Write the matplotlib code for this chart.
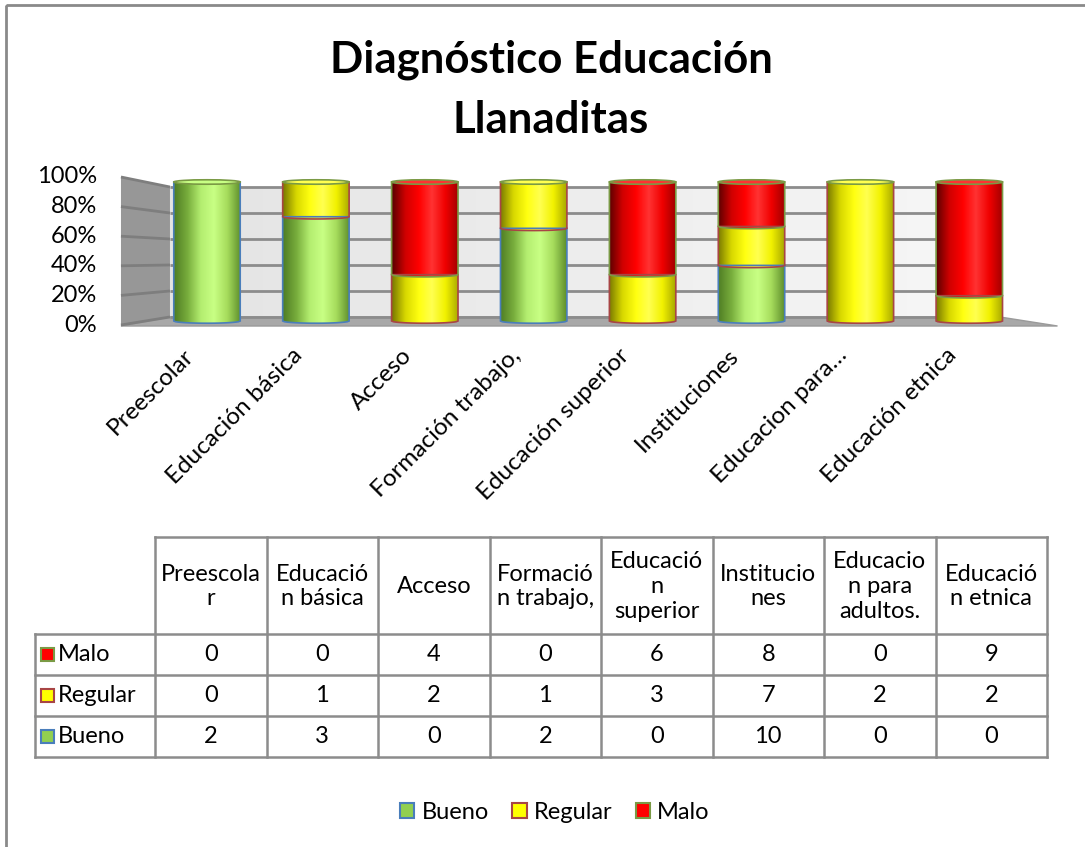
import numpy as np
import matplotlib
matplotlib.use("Agg")
import matplotlib.pyplot as plt
from matplotlib.patches import Polygon, Ellipse, Rectangle, Patch
from matplotlib.colors import LinearSegmentedColormap

plt.rcParams['font.family'] = ['Lato', 'DejaVu Sans']

# ---- data ----
categories = ['Preescolar', 'Educación básica', 'Acceso', 'Formación trabajo,',
              'Educación superior', 'Instituciones', 'Educacion para…', 'Educación etnica']
table_headers = ['Preescola\nr', 'Educació\nn básica', 'Acceso', 'Formació\nn trabajo,',
                 'Educació\nn\nsuperior', 'Institucio\nnes', 'Educacio\nn para\nadultos.',
                 'Educació\nn etnica']
series_names = ['Bueno', 'Regular', 'Malo']
bueno = [2, 3, 0, 2, 0, 10, 0, 0]
regular = [0, 1, 2, 1, 3, 7, 2, 2]
malo = [0, 0, 4, 0, 6, 8, 0, 9]
y_ticks = [0, 20, 40, 60, 80, 100]
title_lines = ['Diagnóstico Educación', 'Llanaditas']

# ---- styling ----
series_values = [bueno, regular, malo]
flat_colors = ['#92d050', '#ffff00', '#ff0000']
edge_colors = ['#4a7ebb', '#a84545', '#7a9a45']
gradients = [
    ['#4f7d24', '#78ad3c', '#b4ee70', '#c8ff84', '#a6dc5c', '#5e8e2c'],
    ['#7a7a00', '#d8d800', '#ffff10', '#ffff50', '#f2f200', '#a8a800'],
    ['#5c0000', '#d00000', '#ff0000', '#ff3232', '#f00000', '#a00000'],
]
cmaps = [LinearSegmentedColormap.from_list('c%d' % k, g) for k, g in enumerate(gradients)]

W, H = 1085, 847
fig = plt.figure(figsize=(W / 100, H / 100), dpi=100)
fig.patch.set_facecolor('white')

# overlay axes in pixel units for frame, table and text layout
tax = fig.add_axes([0, 0, 1, 1])
tax.set_xlim(0, W)
tax.set_ylim(H, 0)
tax.axis('off')

# ---- chart axes (x: category index, y: percent) ----
px0, pxs = 207.0, 108.9   # pixel of category 0, pixels per category
py0, pys = 321.0, 1.39    # pixel of 0 %, pixels per percent
xlim = (-0.85, 7.9)
ylim = (-6.0, 106.0)
l = px0 + pxs * xlim[0]
r = px0 + pxs * xlim[1]
b = py0 - pys * ylim[0]
t = py0 - pys * ylim[1]
ax = fig.add_axes([l / W, (H - b) / H, (r - l) / W, (b - t) / H])
ax.set_xlim(*xlim)
ax.set_ylim(*ylim)
ax.axis('off')

# walls and floor
bx0, bx1 = -0.34, 7.28       # back wall extent
sx = -0.79                   # outer edge of side wall / floor
fx1 = 7.81
back_lo, back_hi = 2.9, 96.4
front_lo = -3.6
side_hi = 103.6

wall_grad = np.linspace(0, 1, 64)[None, :]
ax.imshow(wall_grad, extent=(bx0, bx1, back_lo, back_hi), aspect='auto',
          cmap=LinearSegmentedColormap.from_list('wall', ['#e4e4e4', '#f7f7f7']),
          zorder=0, interpolation='bilinear')
ax.add_patch(Polygon([(sx, front_lo), (bx0, back_lo), (bx0, back_hi), (sx, side_hi)],
                     closed=True, facecolor='#979797', edgecolor='none', zorder=1))
ax.add_patch(Polygon([(sx, front_lo), (bx0, back_lo), (bx1, back_lo), (fx1, front_lo)],
                     closed=True, facecolor='#a8a8a8', edgecolor='#9a9a9a', lw=1, zorder=1))

for v in y_ticks:
    yb = back_lo + (back_hi - back_lo) * v / 100.0
    ys = front_lo + 0.72 + (side_hi - front_lo - 0.72) * v / 100.0
    ax.plot([bx0, bx1], [yb, yb], color='#8c8c8c', lw=2, zorder=2, solid_capstyle='butt')
    ax.plot([sx, bx0], [ys, yb], color='#7e7e7e', lw=2, zorder=2, solid_capstyle='butt')
    ax.text(-1.01, ys, '%d%%' % v, ha='right', va='center', fontsize=17,
            color='black', clip_on=False)

# stacked cylinders
bw = 0.61
eh = 1.6
grad = np.linspace(0, 1, 128)[None, :]
totals = [sum(vals) for vals in zip(*series_values)]
for i in range(len(categories)):
    xc = i
    x0, x1 = xc - bw / 2, xc + bw / 2
    base = 0.0
    top_k = None
    for k, vals in enumerate(series_values):
        pct = 100.0 * vals[i] / totals[i]
        if pct <= 0:
            continue
        top = base + pct
        xs = np.linspace(x0, x1, 40)
        arc = base - eh * np.sqrt(np.clip(1 - ((xs - xc) / (bw / 2)) ** 2, 0, 1))
        pts = [(x0, top)] + list(zip(xs, arc)) + [(x1, top)]
        outline = Polygon(pts, closed=True, facecolor='none', edgecolor=edge_colors[k],
                          lw=1.2, zorder=4)
        im = ax.imshow(grad, extent=(x0, x1, base - eh, top), aspect='auto',
                       cmap=cmaps[k], zorder=3, interpolation='bilinear')
        clip = Polygon(pts, closed=True, transform=ax.transData)
        im.set_clip_path(clip)
        ax.add_patch(outline)
        base = top
        top_k = k
    if top_k is not None:
        ax.add_patch(Ellipse((xc, base), bw, 2 * eh, facecolor=gradients[top_k][3],
                             edgecolor='#7a9a45', lw=1.2, zorder=5))
    ax.text(xc - 0.22, -17.0, categories[i], rotation=45, rotation_mode='anchor',
            ha='right', va='top', fontsize=17.5, clip_on=False)

# ---- title ----
fig.text(551 / W, 1 - 72 / H, title_lines[0], ha='center', va='baseline',
         fontsize=31.5, fontweight='bold')
fig.text(551 / W, 1 - 133 / H, title_lines[1], ha='center', va='baseline',
         fontsize=31.5, fontweight='bold')

# ---- outer frame ----
tax.add_patch(Rectangle((6, 5), 1300, 1000, fill=False, edgecolor='#8a8a8a', lw=2))

# ---- data table ----
tl, c0, cw = 35, 155, 111.5
ttop, hbot, rh = 537, 634, 41
ncol = len(categories)
tright = c0 + cw * ncol
grid_c = '#8c8c8c'
tax.plot([c0, tright], [ttop, ttop], color=grid_c, lw=1.8)
for r_ in range(4):
    yy = hbot + r_ * rh
    tax.plot([tl, tright], [yy, yy], color=grid_c, lw=1.8)
tax.plot([tl, tl], [hbot, hbot + 3 * rh], color=grid_c, lw=1.8)
for c in range(ncol + 1):
    xx = c0 + c * cw
    tax.plot([xx, xx], [ttop, hbot + 3 * rh], color=grid_c, lw=1.8)
for c, hdr in enumerate(table_headers):
    tax.text(c0 + (c + 0.5) * cw, (ttop + hbot) / 2 + 1, hdr, ha='center', va='center',
             fontsize=17, linespacing=1.22)
row_order = [2, 1, 0]
for r_, k in enumerate(row_order):
    yc = hbot + (r_ + 0.5) * rh
    tax.add_patch(Rectangle((41, yc - 6.5), 13, 13, facecolor=flat_colors[k],
                            edgecolor=edge_colors[k], lw=1.5))
    tax.text(58, yc, series_names[k], ha='left', va='center', fontsize=17)
    for c in range(ncol):
        tax.text(c0 + (c + 0.5) * cw, yc, str(series_values[k][c]), ha='center',
                 va='center', fontsize=17)

# ---- legend ----
handles = [Patch(facecolor=flat_colors[k], edgecolor=edge_colors[k], lw=1.5)
           for k in range(3)]
fig.legend(handles, series_names, loc='center', bbox_to_anchor=(555 / W, 1 - 812 / H),
           ncol=3, frameon=False, fontsize=17, handlelength=0.6, handleheight=0.6,
           handletextpad=0.3, columnspacing=1.0)

fig.savefig('out.png', dpi=100)
